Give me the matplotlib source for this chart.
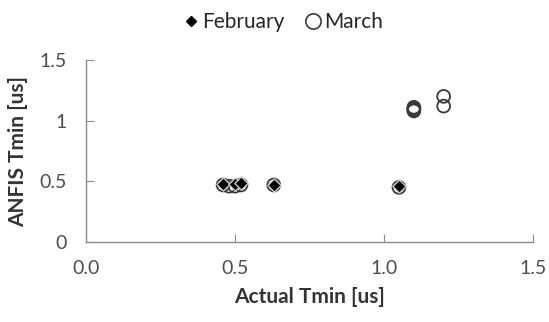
import matplotlib
matplotlib.use("Agg")
import matplotlib.pyplot as plt
from matplotlib.ticker import FixedLocator, FixedFormatter
from matplotlib.lines import Line2D

plt.rcParams['font.family'] = ['Lato', 'DejaVu Sans']

### DATA ###
feb_x = [0.46, 0.50, 0.52, 0.63, 1.05]
feb_y = [0.48, 0.48, 0.49, 0.47, 0.46]

mar_x = [0.46, 0.48, 0.50, 0.52, 0.63, 1.05, 1.10, 1.10, 1.10, 1.10, 1.20, 1.20]
mar_y = [0.47, 0.46, 0.46, 0.47, 0.47, 0.45, 1.08, 1.09, 1.10, 1.11, 1.12, 1.20]

x_ticks = [0.0, 0.5, 1.0, 1.5]
x_labels = ["0.0", "0.5", "1.0", "1.5"]
y_ticks = [0, 0.5, 1.0, 1.5]
y_labels = ["0", "0.5", "1", "1.5"]


fig = plt.figure(figsize=(5.49, 3.22), dpi=100)
ax = fig.add_axes([0.1566, 0.2484, 0.8144, 0.5653])

ax.scatter(mar_x, mar_y, s=85, facecolors='none', edgecolors='#3a3a3a',
           linewidths=1.3, zorder=2)
ax.scatter(feb_x, feb_y, s=45, marker='D', color='black',
           edgecolors='#c8c8c8', linewidths=1.0, zorder=3)

ax.set_xlim(0, 1.5)
ax.set_ylim(0, 1.5)

ax.xaxis.set_major_locator(FixedLocator(x_ticks))
ax.xaxis.set_major_formatter(FixedFormatter(x_labels))
ax.yaxis.set_major_locator(FixedLocator(y_ticks))
ax.yaxis.set_major_formatter(FixedFormatter(y_labels))

for s in ['top', 'right']:
    ax.spines[s].set_visible(False)
for s in ['left', 'bottom']:
    ax.spines[s].set_color('#8c8c8c')
    ax.spines[s].set_linewidth(1.0)

ax.tick_params(axis='both', direction='in', length=6, color='#8c8c8c',
               labelsize=14, labelcolor='#4d4d4d')
ax.tick_params(axis='x', pad=13)
ax.tick_params(axis='y', pad=14)

ax.set_xlabel("Actual Tmin [us]", fontsize=15, fontweight='bold', color='#333333', labelpad=7)
ax.set_ylabel("ANFIS Tmin [us]", fontsize=15, fontweight='bold', color='#333333', labelpad=8)

### LEGEND ###
handles = [
    Line2D([], [], linestyle='none', marker='D', markersize=5, color='black'),
    Line2D([], [], linestyle='none', marker='o', markersize=11, markerfacecolor='none',
           markeredgecolor='#3a3a3a', markeredgewidth=1.2),
]
fig.legend(handles, ["February", "March"], loc='upper center', bbox_to_anchor=(0.515, 1.02),
           ncol=2, frameon=False, fontsize=15, handletextpad=0.1, columnspacing=1.0,
           handlelength=0.8, labelcolor='#262626')

fig.savefig("out.png", dpi=100)
